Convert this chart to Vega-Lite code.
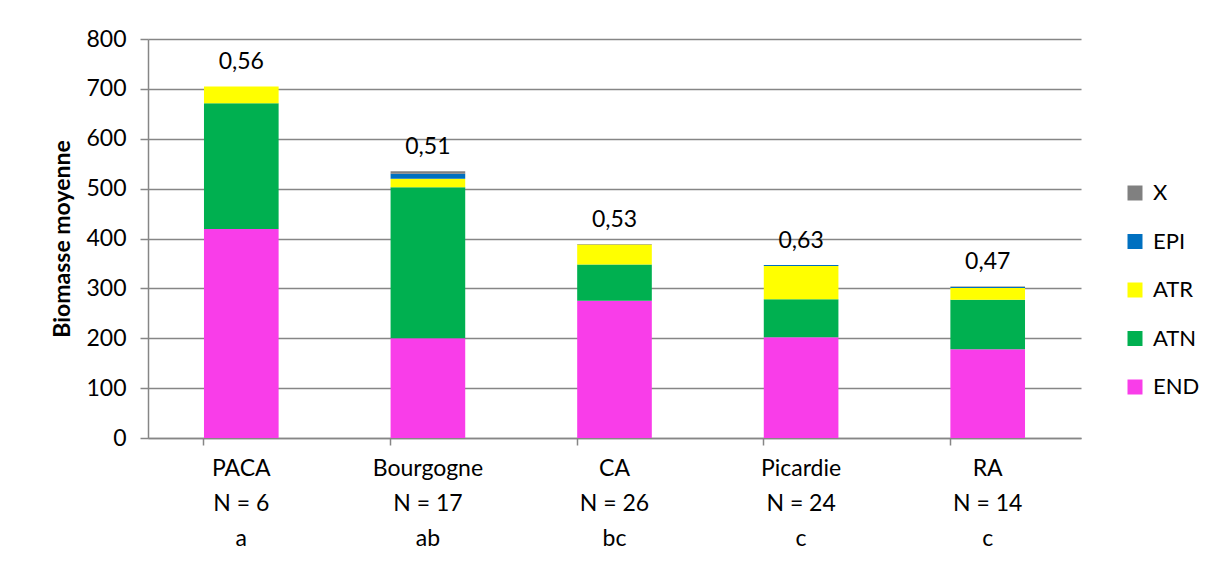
{
  "$schema": "https://vega.github.io/schema/vega-lite/v6.json",
  "width": 933,
  "height": 399,
  "autosize": {"type": "none"},
  "padding": {"left": 148, "top": 39, "right": 127, "bottom": 124},
  "background": "white",
  "config": {
    "font": "Lato",
    "view": {"stroke": null},
    "axis": {
      "labelFont": "Lato",
      "labelFontSize": 23,
      "labelColor": "#000000",
      "domainColor": "#868686",
      "tickColor": "#868686",
      "gridColor": "#868686",
      "domainWidth": 1.5,
      "tickWidth": 1.5,
      "gridWidth": 1.5
    },
    "legend": {"labelFont": "Lato", "labelFontSize": 22, "labelColor": "#000000"}
  },
  "datasets": {
    "biomasse": [
      {"region": "PACA", "groupe": "END", "rang": 1, "biomasse": 419},
      {"region": "PACA", "groupe": "ATN", "rang": 2, "biomasse": 252},
      {"region": "PACA", "groupe": "ATR", "rang": 3, "biomasse": 34},
      {"region": "PACA", "groupe": "EPI", "rang": 4, "biomasse": 0},
      {"region": "PACA", "groupe": "X", "rang": 5, "biomasse": 0},
      {"region": "Bourgogne", "groupe": "END", "rang": 1, "biomasse": 200},
      {"region": "Bourgogne", "groupe": "ATN", "rang": 2, "biomasse": 303},
      {"region": "Bourgogne", "groupe": "ATR", "rang": 3, "biomasse": 17},
      {"region": "Bourgogne", "groupe": "EPI", "rang": 4, "biomasse": 10},
      {"region": "Bourgogne", "groupe": "X", "rang": 5, "biomasse": 5},
      {"region": "CA", "groupe": "END", "rang": 1, "biomasse": 275},
      {"region": "CA", "groupe": "ATN", "rang": 2, "biomasse": 73},
      {"region": "CA", "groupe": "ATR", "rang": 3, "biomasse": 40},
      {"region": "CA", "groupe": "EPI", "rang": 4, "biomasse": 0},
      {"region": "CA", "groupe": "X", "rang": 5, "biomasse": 1},
      {"region": "Picardie", "groupe": "END", "rang": 1, "biomasse": 202},
      {"region": "Picardie", "groupe": "ATN", "rang": 2, "biomasse": 76},
      {"region": "Picardie", "groupe": "ATR", "rang": 3, "biomasse": 67},
      {"region": "Picardie", "groupe": "EPI", "rang": 4, "biomasse": 2},
      {"region": "Picardie", "groupe": "X", "rang": 5, "biomasse": 0},
      {"region": "RA", "groupe": "END", "rang": 1, "biomasse": 178},
      {"region": "RA", "groupe": "ATN", "rang": 2, "biomasse": 99},
      {"region": "RA", "groupe": "ATR", "rang": 3, "biomasse": 24},
      {"region": "RA", "groupe": "EPI", "rang": 4, "biomasse": 2},
      {"region": "RA", "groupe": "X", "rang": 5, "biomasse": 1}
    ],
    "totaux": [
      {"region": "PACA", "total": 705, "indice": "0,56"},
      {"region": "Bourgogne", "total": 535, "indice": "0,51"},
      {"region": "CA", "total": 389, "indice": "0,53"},
      {"region": "Picardie", "total": 347, "indice": "0,63"},
      {"region": "RA", "total": 304, "indice": "0,47"}
    ]
  },
  "encoding": {
    "x": {
      "field": "region",
      "type": "nominal",
      "sort": ["PACA", "Bourgogne", "CA", "Picardie", "RA"],
      "scale": {"paddingInner": 0.6, "paddingOuter": 0.3},
      "axis": {
        "title": null,
        "labelAngle": 0,
        "bandPosition": 0,
        "tickSize": 7,
        "labelPadding": 12,
        "labelBaseline": "top",
        "labelLineHeight": 35,
        "labelExpr": "{'PACA': ['PACA', 'N = 6', 'a'], 'Bourgogne': ['Bourgogne', 'N = 17', 'ab'], 'CA': ['CA', 'N = 26', 'bc'], 'Picardie': ['Picardie', 'N = 24', 'c'], 'RA': ['RA', 'N = 14', 'c']}[datum.value]"
      }
    }
  },
  "layer": [
    {
      "data": {"name": "biomasse"},
      "mark": {"type": "bar"},
      "encoding": {
        "y": {
          "field": "biomasse",
          "type": "quantitative",
          "stack": "zero",
          "scale": {"domain": [0, 800], "nice": false},
          "axis": {
            "title": "Biomasse moyenne",
            "titleFont": "Lato",
            "titleFontSize": 23,
            "titleFontWeight": "bold",
            "titleColor": "#000000",
            "titlePadding": 11,
            "values": [0, 100, 200, 300, 400, 500, 600, 700, 800],
            "grid": true,
            "tickSize": 8,
            "labelPadding": 14
          }
        },
        "color": {
          "field": "groupe",
          "type": "nominal",
          "scale": {
            "domain": ["X", "EPI", "ATR", "ATN", "END"],
            "range": ["#808080", "#0070C0", "#FFFF00", "#00B050", "#F93DE9"]
          },
          "legend": {
            "title": null,
            "orient": "none",
            "legendX": 976,
            "legendY": 143,
            "symbolType": "square",
            "symbolSize": 225,
            "symbolStrokeWidth": 0,
            "rowPadding": 26.5,
            "labelOffset": 7
          }
        },
        "order": {"field": "rang", "type": "quantitative"}
      }
    },
    {
      "data": {"name": "totaux"},
      "mark": {"type": "text", "fontSize": 23, "font": "Lato", "color": "#000000", "baseline": "middle", "dy": -24},
      "encoding": {
        "y": {"field": "total", "type": "quantitative"},
        "text": {"field": "indice"}
      }
    }
  ]
}
